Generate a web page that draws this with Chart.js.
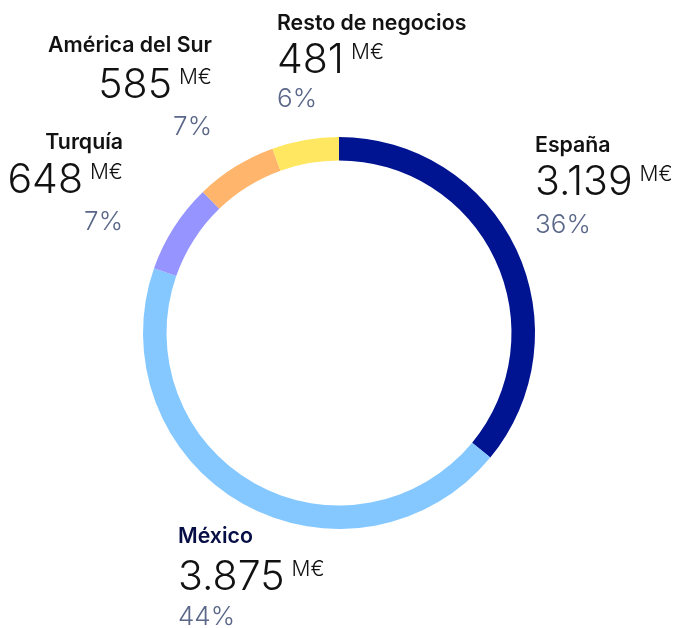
<!DOCTYPE html>
<html lang="es">
  <head>
    <meta charset="UTF-8" />
    <title>Resultado por áreas de negocio</title>
    <style>
      body {
        margin: 0;
        background-color: #fff;
      }
      .chart-container {
        position: relative;
        width: 674px;
        height: 628px;
      }
    </style>
  </head>
  <body>
    <div class="chart-container">
      <canvas id="areasChart"></canvas>
    </div>
    <script src="https://cdn.jsdelivr.net/npm/chart.js"></script>
    <script>
      const areas = ["España", "México", "Turquía", "América del Sur", "Resto de negocios"];
      const values = [3139, 3875, 648, 585, 481];
      const valueLabels = ["3.139", "3.875", "648", "585", "481"];
      const percents = ["36%", "44%", "7%", "7%", "6%"];
      const unit = "M€";
      const colors = ["#001391", "#85c8ff", "#9694ff", "#ffb56b", "#ffe761"];

      // label block placement (baselines in px)
      const labelPos = [
        { x: 535, align: "left", name: 152, value: 195, pct: 233 },
        { x: 178, align: "left", name: 543, value: 590, pct: 625, nameColor: "#070e46" },
        { x: 123, align: "right", name: 149, value: 193, pct: 230 },
        { x: 212, align: "right", name: 52, value: 98, pct: 135 },
        { x: 277, align: "left", name: 30, value: 73, pct: 107 },
      ];

      const labelPlugin = {
        id: "areaLabels",
        afterDraw(chart) {
          const ctx = chart.ctx;
          ctx.save();
          ctx.textBaseline = "alphabetic";
          areas.forEach((name, i) => {
            const p = labelPos[i];
            ctx.textAlign = p.align;

            ctx.font = "600 21.3px Inter";
            ctx.fillStyle = p.nameColor || "#121212";
            ctx.fillText(name, p.x, p.name);

            ctx.font = "300 21px Inter";
            const unitW = ctx.measureText(unit).width;
            ctx.font = "300 41px Inter";
            const valW = ctx.measureText(valueLabels[i]).width;
            const gap = 7;
            ctx.textAlign = "left";
            let valX, unitX;
            if (p.align === "left") {
              valX = p.x;
              unitX = p.x + valW + gap;
            } else {
              unitX = p.x - unitW;
              valX = unitX - gap - valW;
            }
            ctx.fillStyle = "#121212";
            ctx.fillText(valueLabels[i], valX, p.value);
            ctx.font = "300 21px Inter";
            ctx.fillText(unit, unitX, p.value - 14.5);

            ctx.textAlign = p.align;
            ctx.font = "300 26px Inter";
            ctx.fillStyle = "#5a6788";
            ctx.fillText(percents[i], p.x, p.pct);
          });
          ctx.restore();
        },
      };

      new Chart(document.getElementById("areasChart"), {
        type: "doughnut",
        data: {
          labels: areas,
          datasets: [
            {
              data: values,
              backgroundColor: colors,
              borderWidth: 0,
            },
          ],
        },
        options: {
          responsive: true,
          maintainAspectRatio: false,
          animation: false,
          cutout: "88%",
          layout: {
            padding: { left: 143, right: 139, top: 137, bottom: 99 },
          },
          plugins: {
            legend: { display: false },
            tooltip: { enabled: false },
          },
        },
        plugins: [labelPlugin],
      });
    </script>
  </body>
</html>
